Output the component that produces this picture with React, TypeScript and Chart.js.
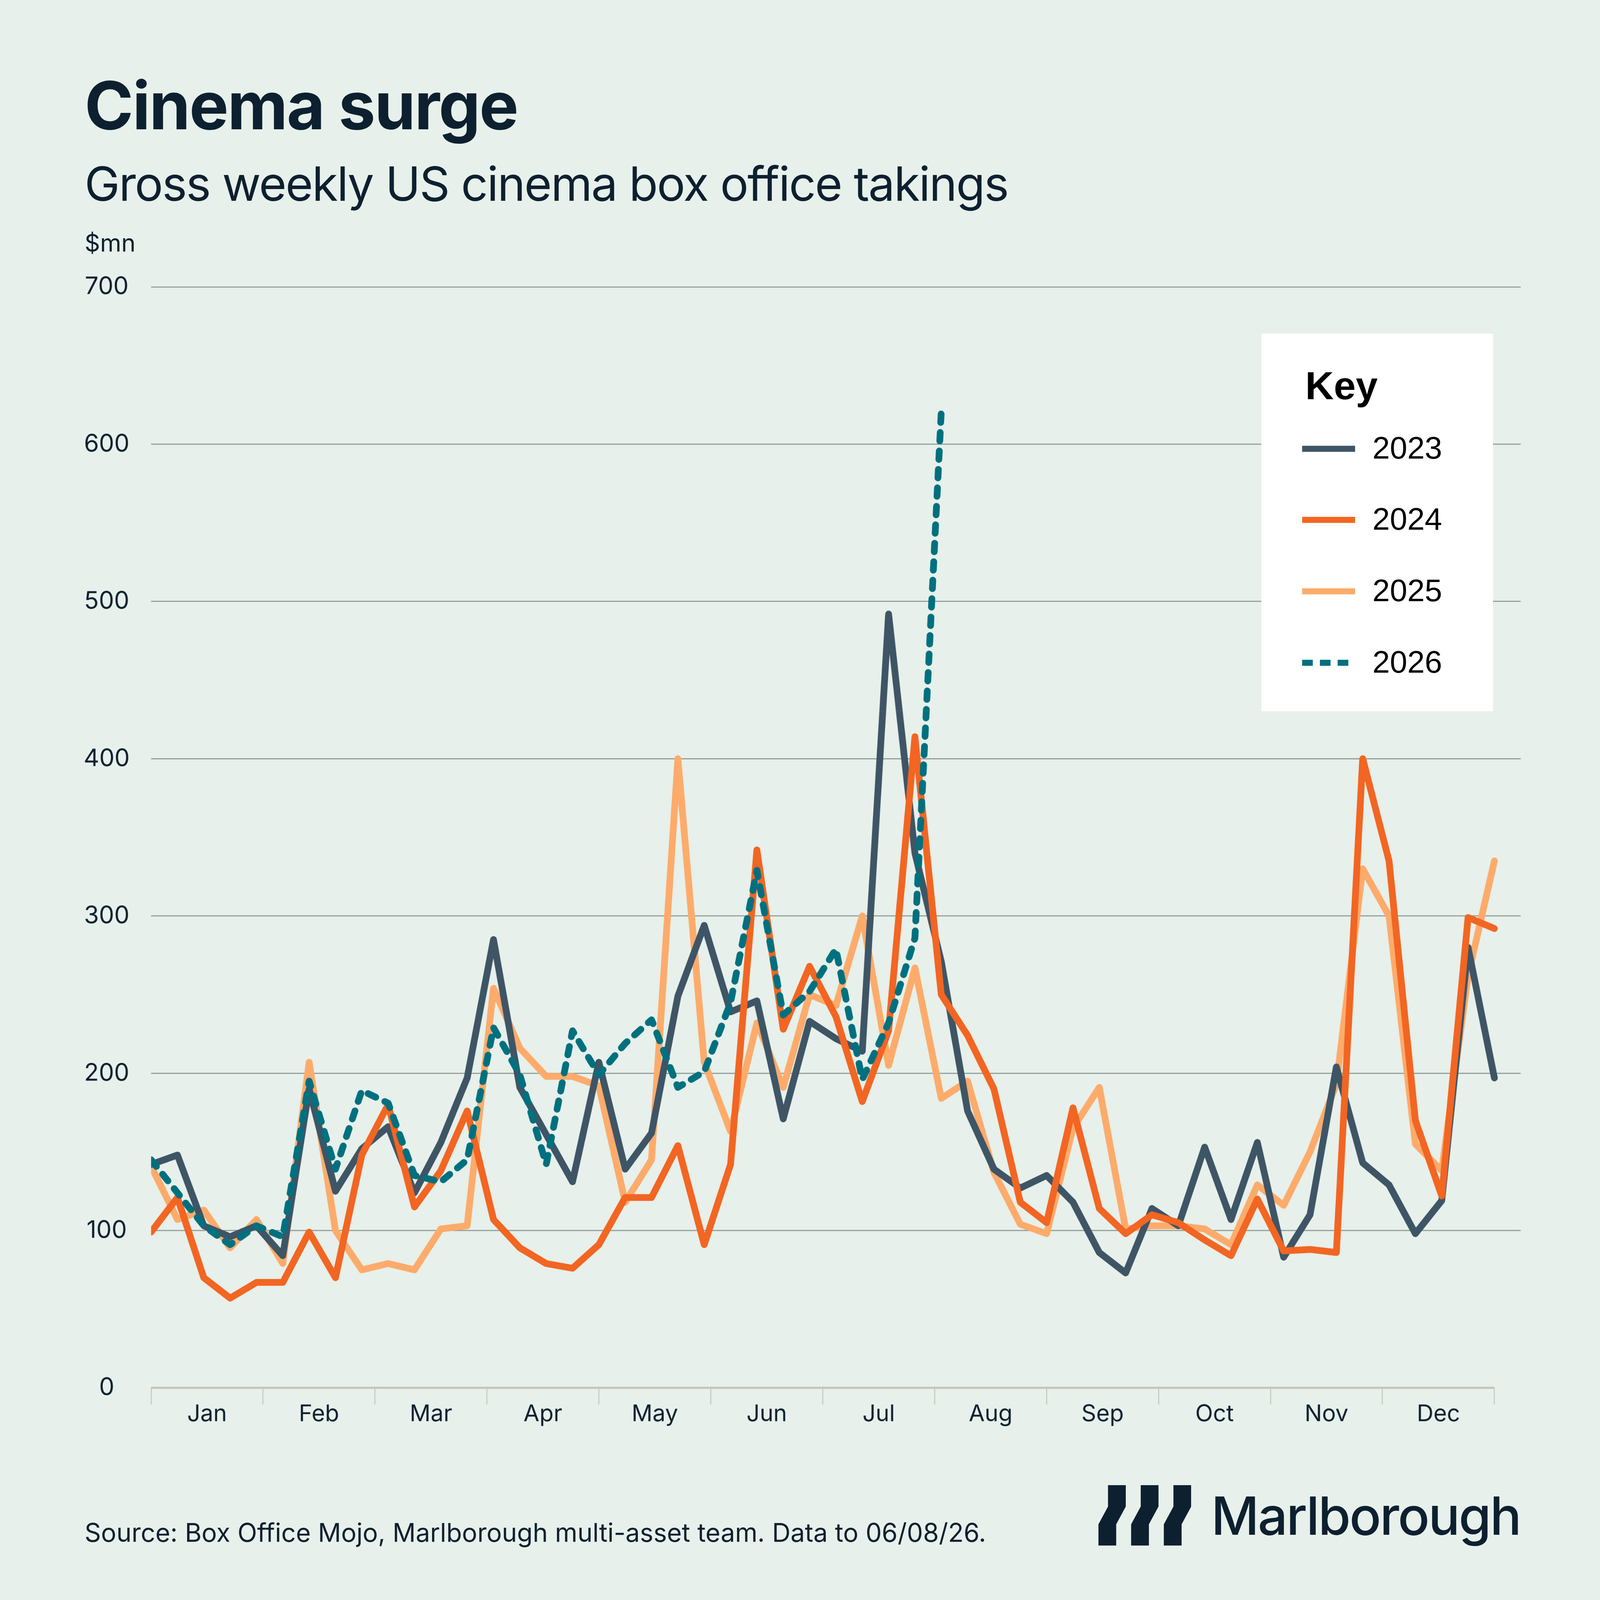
import { useEffect, useRef } from 'react'
import { Chart, registerables, type ChartConfiguration, type Plugin } from 'chart.js'

Chart.register(...registerables)

const MONTHS = ['Jan', 'Feb', 'Mar', 'Apr', 'May', 'Jun', 'Jul', 'Aug', 'Sep', 'Oct', 'Nov', 'Dec']
const Y_TICKS = [0, 100, 200, 300, 400, 500, 600, 700]
const YEARS = ['2023', '2024', '2025', '2026']

// weekly gross, $mn (week 1 .. week 52)
const SERIES_2023 = [
  142, 148, 103, 96, 103, 84, 190, 125, 152, 166, 124, 156, 197, 285, 191, 161, 131, 207, 139, 162,
  249, 294, 239, 246, 171, 233, 222, 214, 492, 340, 271, 176, 139, 127, 135, 118, 86, 73, 114, 103,
  153, 107, 156, 83, 110, 204, 143, 129, 98, 119, 280, 197,
]
const SERIES_2024 = [
  99, 121, 70, 57, 67, 67, 99, 70, 148, 180, 115, 138, 176, 107, 89, 79, 76, 91, 121, 121,
  154, 91, 142, 342, 228, 268, 236, 182, 227, 414, 250, 224, 190, 118, 105, 178, 114, 98, 110, 105,
  94, 84, 120, 87, 88, 86, 400, 335, 170, 122, 299, 292,
]
const SERIES_2025 = [
  141, 107, 113, 89, 107, 79, 207, 100, 75, 79, 75, 101, 103, 254, 216, 198, 198, 192, 118, 145,
  400, 207, 163, 232, 191, 250, 243, 300, 205, 267, 184, 195, 137, 104, 98, 165, 191, 101, 103, 103,
  101, 91, 129, 116, 150, 193, 330, 300, 155, 138, 262, 335,
]
const SERIES_2026 = [
  145, 124, 103, 91, 103, 96, 195, 139, 189, 181, 135, 131, 145, 229, 199, 142, 227, 199, 219, 234,
  191, 201, 245, 329, 237, 252, 279, 196, 232, 286, 621,
]

const COLORS = ['#3e5566', '#f26522', '#fdab6b', '#00707f']
const NAVY = '#0d2030'
const BG = '#e7f0ea'
const GRID = '#8e9a98'
const AXIS_GREY = '#c5c6ba'

const W = 4501
const CANVAS_TOP = 600
const CANVAS_H = 3500

const WEEK_SLOTS = SERIES_2023.length // one spare slot to the right of the last week
const MONTH_MAX = (MONTHS.length * WEEK_SLOTS) / (SERIES_2023.length - 1)
const MONTH_TICKS = MONTHS.flatMap((_, i) => [i, i + 0.5]).concat(MONTHS.length)

const baselinePlugin: Plugin<'line'> = {
  id: 'baseline',
  beforeDatasetsDraw(chart) {
    const m = chart.scales.months
    const y = chart.scales.y
    const ctx = chart.ctx
    ctx.save()
    ctx.strokeStyle = AXIS_GREY
    ctx.lineWidth = 6
    ctx.beginPath()
    ctx.moveTo(m.getPixelForValue(0), y.getPixelForValue(0))
    ctx.lineTo(m.getPixelForValue(MONTHS.length), y.getPixelForValue(0))
    ctx.stroke()
    ctx.restore()
  },
}

function CinemaChart() {
  const canvasRef = useRef<HTMLCanvasElement | null>(null)
  const chartRef = useRef<Chart | null>(null)

  useEffect(() => {
    if (!canvasRef.current) return
    const toPoints = (vals: number[]) => vals.map((y, x) => ({ x, y }))
    const series = [SERIES_2023, SERIES_2024, SERIES_2025, SERIES_2026]
    const drawOrder = [2, 1, 3, 0]

    const config: ChartConfiguration<'line'> = {
      type: 'line',
      data: {
        datasets: series.map((vals, i) => ({
          label: YEARS[i],
          data: toPoints(vals),
          borderColor: COLORS[i],
          borderWidth: 19,
          borderCapStyle: 'round',
          borderJoinStyle: 'round',
          borderDash: i === 3 ? [24, 28] : [],
          pointRadius: 0,
          tension: 0,
          order: drawOrder[i],
        })),
      },
      options: {
        responsive: false,
        animation: false,
        devicePixelRatio: 1,
        layout: { padding: { top: 207, right: 223, bottom: 0, left: 0 } },
        scales: {
          x: { type: 'linear', min: 0, max: WEEK_SLOTS, display: false },
          months: {
            type: 'linear',
            axis: 'x',
            position: 'bottom',
            min: 0,
            max: MONTH_MAX,
            afterBuildTicks: s => {
              s.ticks = MONTH_TICKS.map(v => ({ value: v }))
            },
            afterFit: s => {
              s.height = 196
            },
            border: { display: false },
            grid: {
              drawOnChartArea: false,
              drawTicks: true,
              tickLength: 47,
              tickWidth: 3,
              tickColor: ctx => (Number.isInteger(ctx.tick?.value) ? '#cacbc0' : 'rgba(0,0,0,0)'),
            },
            ticks: {
              autoSkip: false,
              maxRotation: 0,
              padding: -12,
              color: NAVY,
              font: { family: 'Inter', size: 65 },
              callback: v => (Number(v) % 1 ? MONTHS[Math.floor(Number(v))] : ''),
            },
          },
          y: {
            min: 0,
            max: 700,
            afterBuildTicks: s => {
              s.ticks = Y_TICKS.map(v => ({ value: v }))
            },
            afterFit: s => {
              s.width = 425
            },
            border: { display: false },
            grid: {
              color: ctx => (ctx.tick?.value === 0 ? 'rgba(0,0,0,0)' : GRID),
              lineWidth: 3,
              drawTicks: false,
            },
            ticks: {
              crossAlign: 'center',
              padding: 60,
              color: NAVY,
              font: { family: 'Inter', size: 68 },
            },
          },
        },
        plugins: {
          legend: { display: false },
          tooltip: { enabled: false },
        },
      },
      plugins: [baselinePlugin],
    }

    chartRef.current = new Chart(canvasRef.current, config)
    return () => chartRef.current?.destroy()
  }, [])

  return (
    <canvas
      ref={canvasRef}
      width={W}
      height={CANVAS_H}
      style={{ position: 'absolute', left: 0, top: CANVAS_TOP, width: W, height: CANVAS_H }}
      role="img"
      aria-label="Gross weekly US cinema box office takings, 2023 to 2026"
    />
  )
}

function Key() {
  const rows = [1262, 1462, 1663, 1864]
  return (
    <div style={{ position: 'absolute', left: 3548, top: 938, width: 651, height: 1062, background: '#ffffff' }}>
      <div
        style={{
          position: 'absolute',
          left: 3672 - 3548,
          top: 1030 - 938,
          fontFamily: '"Liberation Sans", Arial, sans-serif',
          fontWeight: 700,
          fontSize: 111,
          lineHeight: 1,
          color: '#000',
        }}
      >
        Key
      </div>
      {YEARS.map((yr, i) => (
        <div key={yr}>
          {i === 3 ? (
            [0, 1, 2].map(d => (
              <div
                key={d}
                style={{
                  position: 'absolute',
                  left: 3663 - 3548 + d * 50,
                  top: rows[i] - 938 - 8,
                  width: 30,
                  height: 17,
                  background: COLORS[i],
                }}
              />
            ))
          ) : (
            <div
              style={{
                position: 'absolute',
                left: 3663 - 3548,
                top: rows[i] - 938 - 8,
                width: 149,
                height: 17,
                background: COLORS[i],
              }}
            />
          )}
          <div
            style={{
              position: 'absolute',
              left: 3861 - 3548,
              top: rows[i] + 28 - 938 - 74,
              fontFamily: '"Liberation Sans", Arial, sans-serif',
              fontSize: 88,
              lineHeight: 1,
              color: '#000',
            }}
          >
            {yr}
          </div>
        </div>
      ))}
    </div>
  )
}

function Logo() {
  const bars = [0, 92, 184]
  return (
    <div style={{ position: 'absolute', left: 3090, top: 4178 }}>
      <svg width={261} height={170} viewBox="0 0 261 170" style={{ position: 'absolute', left: 0, top: 0 }}>
        {bars.map(bx => (
          <polygon
            key={bx}
            fill={NAVY}
            points={`${bx + 27},0 ${bx + 77},0 ${bx + 77},60 ${bx + 50},110 ${bx + 50},170 ${bx},170 ${bx},110 ${bx + 27},60`}
          />
        ))}
      </svg>
      <div
        style={{
          position: 'absolute',
          left: 317,
          top: 12,
          fontFamily: 'Inter',
          fontWeight: 500,
          fontSize: 148,
          letterSpacing: '-0.025em',
          lineHeight: 1,
          color: NAVY,
          whiteSpace: 'nowrap',
        }}
      >
        Marlborough
      </div>
    </div>
  )
}

export default function App() {
  // the layout is drawn in 4501-unit design space and fitted to the viewport
  const scale = typeof window !== 'undefined' && window.innerWidth ? window.innerWidth / W : 1
  const text = { position: 'absolute' as const, left: 238, fontFamily: 'Inter', color: NAVY, lineHeight: 1, whiteSpace: 'nowrap' as const }
  return (
    <div style={{ position: 'fixed', left: 0, top: 0, width: '100vw', height: '100vh', overflow: 'hidden', background: BG }}>
      <div
        style={{
          position: 'absolute',
          left: 0,
          top: 0,
          width: W,
          height: W,
          background: BG,
          transform: `scale(${scale})`,
          transformOrigin: '0 0',
        }}
      >
        <div style={{ ...text, top: 204, fontSize: 186, fontWeight: 700, letterSpacing: '-0.017em' }}>Cinema surge</div>
        <div style={{ ...text, top: 450, fontSize: 133, fontWeight: 400, letterSpacing: '-0.022em' }}>
          Gross weekly US cinema box office takings
        </div>
        <div style={{ ...text, top: 649, fontSize: 68 }}>$mn</div>
        <CinemaChart />
        <Key />
        <div style={{ ...text, top: 4275, fontSize: 72 }}>
          Source: Box Office Mojo, Marlborough multi-asset team. Data to 06/08/26.
        </div>
        <Logo />
      </div>
    </div>
  )
}
